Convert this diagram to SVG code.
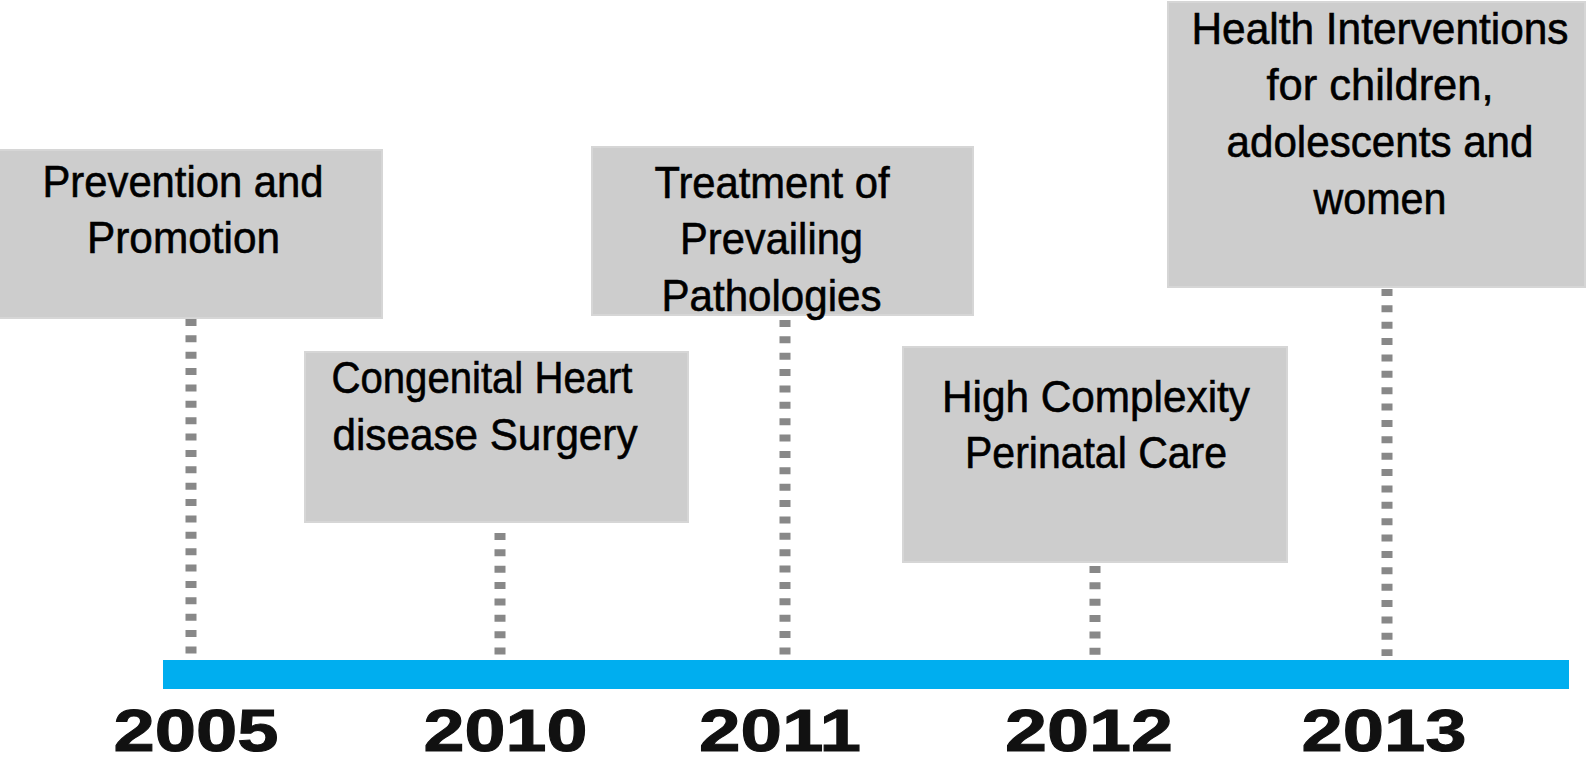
<svg xmlns="http://www.w3.org/2000/svg" width="1589" height="764" viewBox="0 0 1589 764">
<style>
.box{fill:#cdcdcd;stroke:#d6d6d6;stroke-width:2}
.lbl{font-family:"Liberation Sans",Arial,sans-serif;font-size:45px;fill:#000;stroke:#000;stroke-width:0.6;text-anchor:middle}
.yr{font-family:"Liberation Sans",Arial,sans-serif;font-size:60px;font-weight:bold;fill:#111;stroke:#111;stroke-width:1;text-anchor:middle}
.dash{stroke:#888;stroke-width:11;stroke-dasharray:7 9.37;fill:none}
</style>
<rect width="1589" height="764" fill="#fff"/>
<g id="connectors">
<line class="dash" x1="191" y1="319" x2="191" y2="656"/>
<line class="dash" x1="500" y1="533" x2="500" y2="656"/>
<line class="dash" x1="785" y1="320" x2="785" y2="656"/>
<line class="dash" x1="1095" y1="566" x2="1095" y2="656"/>
<line class="dash" x1="1387" y1="289" x2="1387" y2="656"/>
</g>
<g id="timeline">
<rect x="163" y="660" width="1406" height="29" fill="#00aeef"/>
</g>
<g id="node-2005">
<rect class="box" x="-2" y="150" width="384" height="168"/>
<text class="lbl" x="183" y="197" textLength="281" lengthAdjust="spacingAndGlyphs">Prevention and</text>
<text class="lbl" x="183.5" y="253" textLength="193" lengthAdjust="spacingAndGlyphs">Promotion</text>
</g>
<g id="node-2010">
<rect class="box" x="305" y="352" width="383" height="170"/>
<text class="lbl" x="482" y="393" textLength="301" lengthAdjust="spacingAndGlyphs">Congenital Heart</text>
<text class="lbl" x="485" y="450" textLength="305" lengthAdjust="spacingAndGlyphs">disease Surgery</text>
</g>
<g id="node-2011">
<rect class="box" x="592" y="147" width="381" height="168"/>
<text class="lbl" x="772" y="198" textLength="235" lengthAdjust="spacingAndGlyphs">Treatment of</text>
<text class="lbl" x="771.5" y="254" textLength="183" lengthAdjust="spacingAndGlyphs">Prevailing</text>
<text class="lbl" x="771.5" y="311" textLength="220" lengthAdjust="spacingAndGlyphs">Pathologies</text>
</g>
<g id="node-2012">
<rect class="box" x="903" y="347" width="384" height="215"/>
<text class="lbl" x="1096" y="412" textLength="308" lengthAdjust="spacingAndGlyphs">High Complexity</text>
<text class="lbl" x="1096" y="468" textLength="262" lengthAdjust="spacingAndGlyphs">Perinatal Care</text>
</g>
<g id="node-2013">
<rect class="box" x="1168" y="2" width="417" height="285"/>
<text class="lbl" x="1380" y="44" textLength="377" lengthAdjust="spacingAndGlyphs">Health Interventions</text>
<text class="lbl" x="1380" y="100" textLength="227" lengthAdjust="spacingAndGlyphs">for children,</text>
<text class="lbl" x="1380" y="157" textLength="307" lengthAdjust="spacingAndGlyphs">adolescents and</text>
<text class="lbl" x="1380" y="214" textLength="133" lengthAdjust="spacingAndGlyphs">women</text>
</g>
<g id="years">
<text class="yr" x="196" y="751" textLength="165" lengthAdjust="spacingAndGlyphs">2005</text>
<text class="yr" x="505.5" y="751" textLength="164" lengthAdjust="spacingAndGlyphs">2010</text>
<text class="yr" x="780" y="751" textLength="162" lengthAdjust="spacingAndGlyphs">2011</text>
<text class="yr" x="1089" y="751" textLength="168" lengthAdjust="spacingAndGlyphs">2012</text>
<text class="yr" x="1384" y="751" textLength="165" lengthAdjust="spacingAndGlyphs">2013</text>
</g>
</svg>
